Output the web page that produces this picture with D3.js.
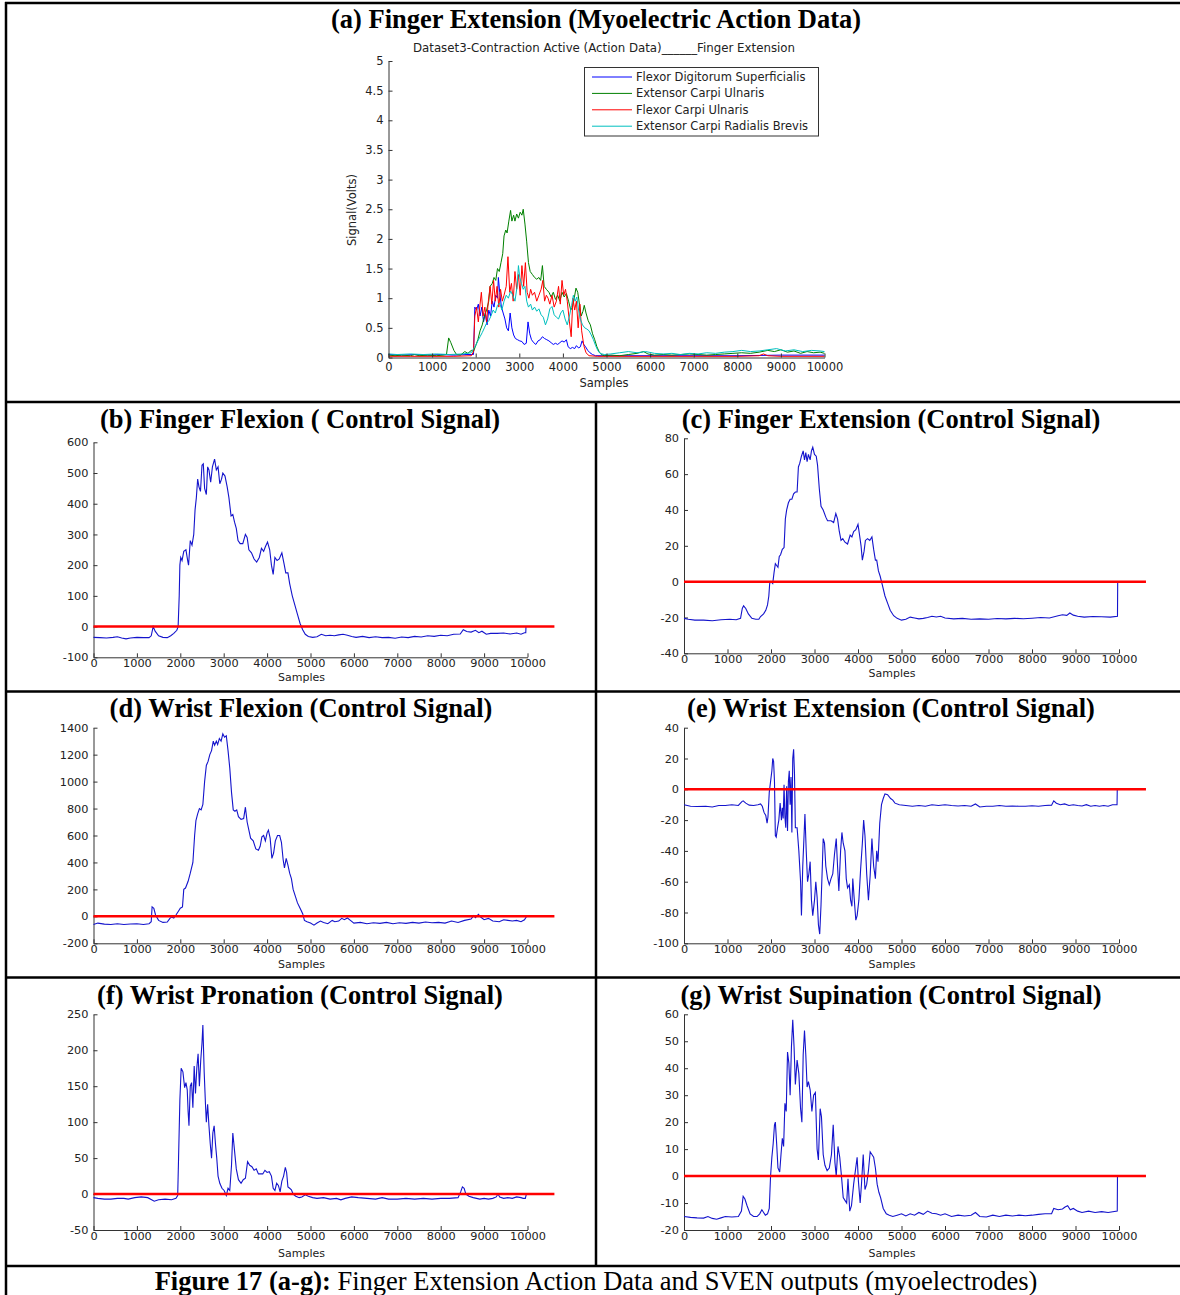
<!DOCTYPE html>
<html>
<head>
<meta charset="utf-8">
<script src="https://cdn.jsdelivr.net/npm/d3@7"></script>
<style>
  body { margin: 0; background: #fff; }
  svg text { font-family: "DejaVu Sans", sans-serif; }
</style>
</head>
<body>
<svg id="fig" width="1180" height="1295"></svg>
<script>
// ---------- Values ----------
const sampleTicks = [0, 1000, 2000, 3000, 4000, 5000, 6000, 7000, 8000, 9000, 10000];
const voltTicks = [0, 0.5, 1, 1.5, 2, 2.5, 3, 3.5, 4, 4.5, 5];
const muscleNames = ["Flexor Digitorum Superficialis", "Extensor Carpi Ulnaris", "Flexor Carpi Ulnaris", "Extensor Carpi Radialis Brevis"];

// Raw action data (volts), [sample, value]
const fdsSignal = [[0,0.05],[300,0.04],[600,0.05],[900,0.04],[1200,0.05],[1500,0.04],[1800,0.05],[1950,0.05],[1980,0.85],[2020,0.8],[2060,0.9],[2100,0.7],[2140,0.85],[2180,0.6],[2220,0.75],[2260,0.55],[2300,0.8],[2340,0.7],[2380,0.95],[2420,0.85],[2460,1.05],[2500,1.0],[2520,1.35],[2550,1.1],[2590,0.85],[2630,0.75],[2670,0.65],[2710,0.5],[2750,0.45],[2790,0.75],[2830,0.5],[2870,0.38],[2910,0.32],[2960,0.3],[3010,0.28],[3060,0.27],[3110,0.22],[3160,0.24],[3200,0.6],[3240,0.4],[3280,0.3],[3330,0.25],[3380,0.22],[3430,0.28],[3480,0.3],[3530,0.35],[3580,0.32],[3630,0.3],[3680,0.28],[3730,0.25],[3780,0.22],[3830,0.24],[3880,0.22],[3930,0.25],[3980,0.28],[4030,0.26],[4080,0.3],[4120,0.18],[4170,0.15],[4220,0.17],[4270,0.15],[4310,0.2],[4360,0.16],[4400,0.18],[4440,0.28],[4480,0.22],[4520,0.18],[4570,0.12],[4620,0.08],[4680,0.05],[4750,0.03],[5000,0.03],[6000,0.03],[7000,0.03],[8000,0.03],[9000,0.04],[10000,0.04]];
const ecuSignal = [[0,0.04],[150,0.03],[300,0.04],[500,0.03],[600,0.05],[700,0.03],[900,0.04],[1100,0.03],[1250,0.04],[1330,0.05],[1380,0.33],[1430,0.25],[1500,0.12],[1560,0.05],[1650,0.04],[1750,0.1],[1820,0.07],[1900,0.12],[1950,0.1],[2000,0.2],[2050,0.3],[2100,0.45],[2150,0.55],[2200,0.7],[2250,0.8],[2300,0.95],[2330,1.2],[2380,1.25],[2420,1.35],[2460,1.3],[2500,1.5],[2540,1.45],[2580,1.6],[2620,1.75],[2650,2.05],[2690,2.15],[2720,2.1],[2760,2.3],[2800,2.48],[2830,2.3],[2870,2.4],[2900,2.3],[2940,2.42],[2980,2.35],[3020,2.45],[3060,2.4],[3090,2.5],[3130,2.25],[3170,1.95],[3210,1.6],[3250,1.45],[3300,1.4],[3350,1.35],[3400,1.32],[3450,1.35],[3490,1.3],[3530,1.55],[3570,1.2],[3620,1.15],[3680,1.1],[3730,1.02],[3780,1.1],[3830,0.98],[3880,1.05],[3930,0.95],[3980,1.1],[4030,1.02],[4080,1.08],[4130,0.95],[4180,0.8],[4220,0.85],[4260,1.0],[4300,1.17],[4340,1.1],[4380,0.9],[4420,0.7],[4460,0.78],[4490,0.88],[4530,0.75],[4580,0.62],[4630,0.55],[4680,0.4],[4730,0.3],[4780,0.18],[4830,0.1],[4880,0.05],[4950,0.03],[5100,0.04],[5300,0.03],[5500,0.05],[5700,0.07],[5850,0.1],[5950,0.06],[6100,0.04],[6300,0.05],[6500,0.04],[6700,0.05],[6900,0.06],[7100,0.05],[7300,0.04],[7500,0.05],[7700,0.06],[7900,0.07],[8100,0.08],[8300,0.07],[8500,0.09],[8700,0.12],[8850,0.1],[9000,0.13],[9150,0.09],[9300,0.11],[9450,0.07],[9600,0.1],[9750,0.08],[9900,0.09],[10000,0.07]];
const fcuSignal = [[0,0.02],[500,0.02],[1000,0.02],[1500,0.02],[1900,0.03],[1950,0.1],[1980,0.7],[2020,0.85],[2060,0.6],[2100,0.9],[2130,1.1],[2170,0.7],[2210,0.85],[2250,0.6],[2290,0.95],[2330,1.2],[2370,0.9],[2410,1.3],[2450,0.95],[2490,1.2],[2530,0.85],[2570,1.15],[2610,0.95],[2650,1.05],[2700,1.2],[2740,1.7],[2780,1.1],[2820,1.25],[2860,0.95],[2900,1.45],[2940,1.15],[2980,1.4],[3020,1.05],[3060,1.55],[3100,1.2],[3140,1.6],[3180,1.1],[3220,1.0],[3260,1.15],[3300,1.05],[3350,1.1],[3400,0.95],[3450,1.05],[3500,1.15],[3540,1.3],[3580,0.95],[3620,1.05],[3660,1.0],[3700,0.9],[3750,1.05],[3800,0.85],[3850,0.95],[3900,1.2],[3940,0.9],[3980,1.3],[4020,1.05],[4060,1.15],[4100,0.95],[4150,0.6],[4190,0.35],[4230,1.0],[4270,0.8],[4310,0.95],[4350,0.5],[4390,0.9],[4430,0.45],[4480,0.2],[4530,0.08],[4600,0.03],[4800,0.02],[6000,0.02],[7000,0.02],[8000,0.02],[8500,0.03],[8600,0.06],[8700,0.03],[9000,0.02],[10000,0.02]];
const ecrbSignal = [[0,0.06],[200,0.05],[500,0.06],[800,0.05],[1100,0.06],[1400,0.05],[1700,0.06],[1900,0.08],[1950,0.15],[2000,0.2],[2050,0.28],[2100,0.35],[2150,0.42],[2200,0.5],[2250,0.58],[2300,0.62],[2350,0.7],[2400,0.8],[2450,0.75],[2500,0.88],[2550,0.92],[2600,0.8],[2650,0.95],[2700,1.05],[2750,1.0],[2800,1.12],[2850,1.05],[2900,0.95],[2950,1.2],[2980,1.55],[3010,1.35],[3050,1.25],[3090,1.15],[3130,1.2],[3170,0.95],[3210,0.85],[3260,0.9],[3300,0.8],[3350,0.85],[3400,0.78],[3450,0.82],[3500,0.72],[3550,0.68],[3600,0.55],[3650,0.65],[3700,0.82],[3750,0.86],[3800,0.72],[3850,0.68],[3900,0.65],[3950,0.75],[4000,0.8],[4050,0.65],[4100,0.55],[4150,0.7],[4200,0.88],[4240,1.05],[4280,0.95],[4320,1.02],[4360,0.8],[4400,0.65],[4450,0.55],[4500,0.5],[4550,0.48],[4600,0.45],[4650,0.38],[4700,0.3],[4750,0.2],[4800,0.12],[4850,0.07],[4950,0.05],[5100,0.06],[5300,0.08],[5500,0.1],[5700,0.08],[5900,0.1],[6100,0.07],[6300,0.06],[6500,0.07],[6700,0.05],[6900,0.07],[7100,0.06],[7300,0.08],[7500,0.07],[7700,0.09],[7900,0.1],[8100,0.12],[8300,0.1],[8500,0.11],[8700,0.13],[8900,0.15],[9100,0.11],[9300,0.13],[9500,0.1],[9700,0.12],[9900,0.11],[10000,0.1]];

// SVEN control signals, [sample, value]
const fingerFlexion = [[0,-35],[150,-36],[300,-37],[450,-35],[550,-33],[650,-37],[750,-40],[850,-37],[1000,-35],[1150,-36],[1280,-36],[1330,-30],[1375,0],[1420,-15],[1500,-30],[1600,-35],[1700,-36],[1780,-30],[1850,-22],[1920,-12],[1950,0],[1975,100],[1990,200],[2010,225],[2040,215],[2080,245],[2130,250],[2170,215],[2190,200],[2230,280],[2270,265],[2310,300],[2340,380],[2370,420],[2400,480],[2430,455],[2465,440],[2500,525],[2530,530],[2560,450],[2600,430],[2630,520],[2660,510],[2700,470],[2740,520],[2790,545],[2830,510],[2870,520],[2910,465],[2950,480],[2980,500],[3030,490],[3080,455],[3120,420],[3170,360],[3210,365],[3250,340],[3290,320],[3330,280],[3380,270],[3440,270],[3500,300],[3540,290],[3580,250],[3640,240],[3700,220],[3760,210],[3820,225],[3870,255],[3920,245],[3960,260],[4010,275],[4060,250],[4100,200],[4140,170],[4180,225],[4230,215],[4280,220],[4340,240],[4390,205],[4430,175],[4480,175],[4520,140],[4580,100],[4640,70],[4700,40],[4760,10],[4820,-10],[4880,-25],[4950,-32],[5050,-35],[5150,-33],[5250,-25],[5350,-30],[5450,-28],[5550,-30],[5650,-27],[5750,-25],[5850,-28],[5950,-32],[6050,-35],[6200,-32],[6350,-36],[6500,-33],[6650,-36],[6800,-35],[6950,-38],[7100,-34],[7250,-36],[7400,-32],[7550,-34],[7700,-30],[7850,-32],[8000,-28],[8150,-30],[8300,-25],[8450,-24],[8520,-10],[8600,-16],[8700,-18],[8800,-12],[8880,-20],[8950,-15],[9050,-25],[9150,-22],[9300,-22],[9450,-21],[9600,-24],[9750,-21],[9850,-25],[9930,-20],[9960,-20],[9965,0]];
const fingerExtension = [[0,-20.5],[100,-21],[250,-21.5],[450,-21.5],[650,-21.8],[850,-21.3],[1050,-21],[1200,-21.3],[1300,-20.5],[1340,-15],[1370,-13.5],[1420,-15],[1480,-18],[1560,-20.5],[1650,-21],[1720,-21],[1760,-19.5],[1830,-18],[1880,-16],[1920,-13],[1950,-8],[1970,-1],[2000,0],[2040,-1],[2070,5],[2100,10],[2130,9],[2160,8],[2190,14],[2220,15],[2260,18],[2300,19],[2330,35],[2360,40],[2400,44],[2440,46],[2480,46],[2520,49],[2560,50],[2600,50],[2630,64],[2660,66],[2700,70],[2740,73],[2770,68],[2800,72],[2830,67],[2860,71],[2900,68],[2930,73],[2960,75],[3000,71],[3040,70],[3070,65],[3110,52],[3150,42],[3200,40],[3260,36],[3300,34],[3380,34],[3440,33],[3490,38],[3530,35],[3570,28],[3610,23],[3650,24],[3700,22],[3760,21],[3820,26],[3860,25],[3900,28],[3950,29],[4000,32],[4030,27],[4070,20],[4100,12],[4140,17],[4170,23],[4220,24],[4270,23],[4320,25],[4360,18],[4400,12],[4430,12],[4470,6],[4510,3],[4560,-2],[4620,-8],[4680,-12],[4740,-16],[4820,-19],[4900,-20.5],[5000,-21.5],[5100,-21],[5200,-19.8],[5300,-20.3],[5400,-20.8],[5500,-20.5],[5600,-20],[5700,-19.3],[5800,-19.7],[5900,-19.3],[6000,-20.3],[6200,-20.8],[6400,-20.5],[6600,-21],[6800,-20.8],[7000,-21],[7200,-20.6],[7400,-20.8],[7600,-20.5],[7800,-20.7],[8000,-20.4],[8200,-20],[8400,-20.3],[8600,-19],[8700,-18.5],[8800,-18.8],[8870,-17.5],[8950,-18.7],[9050,-19.3],[9200,-19.8],[9400,-19.5],[9600,-19.6],[9800,-19.8],[9965,-19.3],[9970,0]];
const wristFlexion = [[0,-60],[100,-50],[250,-58],[400,-60],[550,-55],[700,-60],[850,-57],[1000,-55],[1150,-60],[1280,-55],[1330,-40],[1350,70],[1390,60],[1430,10],[1500,-30],[1600,-45],[1700,-42],[1760,-15],[1800,-5],[1850,-12],[1900,10],[1960,40],[2000,60],[2050,70],[2080,200],[2120,210],[2180,260],[2230,320],[2290,400],[2330,600],[2360,710],[2400,760],[2440,800],[2480,790],[2520,830],[2560,1000],[2600,1120],[2640,1150],[2680,1200],[2720,1230],[2760,1300],[2790,1270],[2830,1300],[2860,1275],[2900,1320],[2940,1300],[2980,1355],[3020,1330],[3060,1340],[3100,1230],[3140,1100],[3180,920],[3220,790],[3260,780],[3300,790],[3340,740],[3400,720],[3460,725],[3500,810],[3540,700],[3580,640],[3620,580],[3680,560],[3740,500],[3800,490],[3840,520],[3880,590],[3920,600],[3960,560],[4000,620],[4030,640],[4070,580],[4110,430],[4150,470],[4190,560],[4240,600],[4290,600],[4330,550],[4370,420],[4400,360],[4440,430],[4480,380],[4520,320],[4560,280],[4600,200],[4650,150],[4700,100],[4760,60],[4820,20],[4860,-30],[4920,-40],[5000,-50],[5080,-65],[5150,-50],[5230,-35],[5300,-45],[5400,-55],[5500,-30],[5560,-40],[5650,-35],[5720,-15],[5780,-25],[5850,-12],[5920,-30],[6000,-50],[6150,-45],[6300,-55],[6450,-48],[6600,-52],[6750,-45],[6900,-55],[7050,-48],[7200,-52],[7350,-45],[7500,-50],[7650,-42],[7800,-48],[7950,-45],[8100,-50],[8250,-35],[8400,-45],[8550,-30],[8700,-20],[8760,5],[8800,-10],[8870,15],[8920,-5],[9000,-25],[9100,-15],[9200,-35],[9350,-40],[9450,-25],[9550,-30],[9650,-35],[9750,-30],[9850,-40],[9930,-25],[9960,-10],[9980,0]];
const wristExtension = [[0,-10],[150,-11],[300,-11.2],[500,-11],[650,-11.5],[800,-10.5],[950,-10.5],[1100,-10],[1250,-10.5],[1330,-8],[1360,-7.5],[1420,-9],[1500,-10.3],[1600,-10.5],[1700,-10],[1760,-9.5],[1800,-11],[1840,-15],[1880,-17],[1910,-22],[1930,-18],[1960,-2],[1990,5],[2020,12],[2040,20],[2060,18],[2080,5],[2100,-30],[2120,-31],[2150,-25],[2180,-20],[2210,-9],[2240,-20],[2260,-12],[2280,-19],[2300,3],[2320,-18],[2340,-25],[2360,2],[2380,-27],[2400,5],[2420,12],[2440,-10],[2460,8],[2480,-28],[2500,20],[2520,26],[2540,10],[2560,-25],[2600,-25],[2640,-40],[2680,-60],[2700,-82],[2730,-50],[2760,-30],[2780,-16],[2810,-40],[2840,-60],[2870,-55],[2900,-47],[2930,-72],[2960,-82],[3000,-72],[3030,-60],[3060,-70],[3090,-88],[3120,-94],[3150,-75],[3180,-50],[3200,-32],[3230,-35],[3260,-50],[3300,-58],[3340,-62],[3380,-58],[3420,-55],[3460,-42],[3500,-32],[3530,-50],[3560,-66],[3600,-40],[3630,-28],[3660,-35],[3700,-40],[3730,-58],[3760,-64],[3800,-62],[3830,-72],[3860,-76],[3880,-58],[3910,-70],[3950,-85],[3980,-82],[4020,-72],[4060,-52],[4100,-35],[4130,-20],[4160,-30],[4200,-55],[4240,-72],[4280,-56],[4320,-32],[4360,-50],[4400,-58],[4430,-40],[4460,-47],[4500,-22],[4540,-10],[4580,-6],[4620,-3],[4680,-3.5],[4750,-6],[4800,-7],[4850,-9],[4950,-10],[5100,-10.5],[5250,-11],[5400,-10.5],[5550,-11],[5700,-10],[5850,-10.5],[6000,-10],[6150,-10.5],[6300,-10.8],[6450,-10.5],[6600,-11],[6700,-9.5],[6800,-11.5],[6950,-11],[7100,-11],[7250,-10.5],[7400,-11],[7550,-10.8],[7700,-11],[7850,-11],[8000,-10.7],[8150,-11],[8300,-10.5],[8450,-10.3],[8500,-7.5],[8560,-9],[8650,-10],[8750,-9.5],[8850,-10.5],[8950,-10],[9050,-10.5],[9150,-10.8],[9250,-10],[9350,-11],[9450,-10.5],[9550,-11],[9650,-10.5],[9750,-11],[9850,-10],[9955,-10],[9960,0]];
const wristPronation = [[0,-5],[100,-6],[250,-7],[400,-7],[550,-6],[700,-6],[800,-7],[950,-5],[1100,-4],[1250,-5],[1400,-10],[1500,-8],[1650,-7],[1800,-8],[1900,-6],[1940,-2],[1960,50],[1990,130],[2020,175],[2060,170],[2100,148],[2130,155],[2160,145],[2180,115],[2200,95],[2230,150],[2260,155],[2290,120],[2320,178],[2350,140],[2380,175],[2410,195],[2440,150],[2470,185],[2500,210],[2520,235],[2550,170],[2580,125],[2600,100],[2630,125],[2660,95],[2690,70],[2720,50],[2750,85],[2780,95],[2810,70],[2840,50],[2870,25],[2910,15],[2960,8],[3010,5],[3060,-2],[3100,8],[3140,5],[3180,40],[3210,85],[3250,60],[3290,35],[3340,20],[3400,15],[3450,20],[3500,22],[3550,45],[3600,40],[3650,38],[3700,33],[3750,35],[3800,28],[3850,28],[3900,28],[3950,33],[4000,30],[4050,31],[4100,25],[4140,8],[4180,5],[4220,15],[4260,12],[4300,3],[4340,18],[4380,25],[4420,37],[4450,30],[4480,10],[4520,8],[4560,6],[4600,0],[4660,-3],[4740,-5],[4800,-4],[4880,-1],[4950,-3],[5050,-5],[5150,-6],[5300,-5],[5450,-7],[5600,-6],[5700,-8],[5800,-6],[5950,-4],[6100,-5],[6300,-6],[6500,-7],[6650,-5],[6800,-7],[7000,-7],[7200,-6],[7400,-7],[7600,-6],[7800,-7],[8000,-6],[8200,-6],[8400,-5],[8460,3],[8500,10],[8540,8],[8580,0],[8650,-3],[8750,-5],[8900,-7],[9000,-6],[9100,-7],[9200,-6],[9280,-4],[9320,0],[9360,-4],[9450,-6],[9550,-5],[9650,-6],[9750,-4],[9850,-5],[9900,-6],[9950,-6],[9970,-1]];
const wristSupination = [[0,-15],[150,-15.3],[300,-15.5],[450,-15.6],[550,-15],[650,-15.7],[750,-16],[850,-15.5],[950,-15],[1100,-15.2],[1250,-15],[1320,-13],[1360,-7.5],[1400,-8.5],[1450,-11],[1520,-14],[1600,-15],[1680,-15],[1740,-14],[1790,-12.5],[1830,-13.5],[1870,-14.5],[1920,-14],[1960,-12],[1990,0],[2020,7],[2050,12],[2080,19],[2100,20],[2130,12],[2160,3],[2200,1.5],[2230,8],[2260,14],[2290,11],[2320,27],[2350,24],[2380,46],[2410,42],[2440,30],[2470,48],[2500,58],[2530,48],[2560,34],[2600,43],[2640,38],[2680,25],[2710,20],[2740,45],[2770,54],[2800,45],[2830,33],[2860,35],[2900,32],[2940,24],[2980,30],[3020,31],[3060,10],[3090,6],[3130,25],[3160,22],[3200,8],[3240,4],[3290,2],[3340,3],[3390,8],[3430,19],[3470,5],[3500,0],[3540,11],[3580,7],[3620,0],[3660,-8],[3700,-9],[3740,-10],[3770,-1],[3810,-13],[3850,-11],[3900,-3],[3940,2],[3980,7],[4010,-2],[4050,-10],[4080,-3],[4120,8],[4160,-5],[4200,-3],[4240,2],[4280,9],[4320,8],[4360,7],[4400,3],[4440,-3],[4480,-6],[4520,-8],[4580,-12],[4650,-14],[4720,-14.5],[4800,-15],[4900,-14.5],[5000,-14],[5100,-14.8],[5200,-14],[5300,-14.5],[5400,-13.5],[5500,-14.2],[5600,-13],[5700,-13.8],[5800,-14],[5900,-14.5],[6000,-14],[6150,-15],[6300,-14.5],[6450,-14.8],[6600,-14.5],[6700,-13.5],[6800,-15],[6950,-15.2],[7100,-14.5],[7250,-15],[7400,-14.5],[7550,-14.8],[7700,-14.5],[7850,-14.7],[8000,-14.5],[8150,-14.2],[8300,-14],[8450,-14],[8500,-12],[8600,-12.5],[8700,-12.2],[8760,-11.5],[8820,-11],[8880,-12.5],[8950,-12],[9050,-13],[9150,-13.5],[9300,-13],[9450,-13.5],[9600,-13.2],[9750,-13.5],[9960,-13],[9965,0]];

// Decision threshold drawn in every control panel
const thresholdLine = [[0, 0], [10620, 0]];

const flexionTicks = [-100, 0, 100, 200, 300, 400, 500, 600];
const extensionTicks = [-40, -20, 0, 20, 40, 60, 80];
const wristFlexTicks = [-200, 0, 200, 400, 600, 800, 1000, 1200, 1400];
const wristExtTicks = [-100, -80, -60, -40, -20, 0, 20, 40];
const pronationTicks = [-50, 0, 50, 100, 150, 200, 250];
const supinationTicks = [-20, -10, 0, 10, 20, 30, 40, 50, 60];

// ---------- Drawing ----------
const svg = d3.select("#fig");
const SERIF = '"Liberation Serif", "Times New Roman", serif';

function styleAxis(fontSize) {
  return g => {
    g.selectAll("path.domain").attr("stroke", "#333").attr("stroke-width", 1);
    g.selectAll(".tick line").attr("stroke", "#333");
    g.selectAll(".tick text").attr("fill", "#222")
      .style("font-family", '"DejaVu Sans", sans-serif').style("font-size", fontSize);
  };
}

function drawAxes(g, x, y, yTicks, xPad, yPad, fontSize) {
  g.append("g")
    .attr("transform", `translate(0,${y.range()[0]})`)
    .call(d3.axisBottom(x).tickValues(sampleTicks).tickFormat(d3.format("d"))
      .tickSizeInner(-4).tickSizeOuter(0).tickPadding(xPad))
    .call(styleAxis(fontSize));
  g.append("g")
    .attr("transform", `translate(${x.range()[0]},0)`)
    .call(d3.axisLeft(y).tickValues(yTicks).tickFormat(d => String(d))
      .tickSizeInner(-4).tickSizeOuter(0).tickPadding(yPad))
    .call(styleAxis(fontSize));
}

const line = (x, y) => d3.line().x(d => x(d[0])).y(d => y(d[1]));

// ----- Panel (a): raw action data -----
(function () {
  const x = d3.scaleLinear().domain([0, 10000]).range([388.5, 824.5]);
  const y = d3.scaleLinear().domain([0, 5]).range([357.5, 61]);
  const g = svg.append("g");
  const series = [fdsSignal, ecuSignal, fcuSignal, ecrbSignal];
  const colors = ["#0000ff", "#008000", "#ff0000", "#00bfbf"];
  series.forEach((s, i) => {
    g.append("path").datum(s).attr("d", line(x, y)).attr("fill", "none")
      .attr("stroke", colors[i]).attr("stroke-width", 1);
  });
  drawAxes(g, x, y, voltTicks, 5, 5, "11.5px");
  g.append("text").attr("x", 604).attr("y", 52).attr("text-anchor", "middle")
    .style("font-size", "11.8px").attr("fill", "#222")
    .text("Dataset3-Contraction Active (Action Data)______Finger Extension");
  g.append("text").attr("transform", "translate(356,210) rotate(-90)")
    .attr("text-anchor", "middle").style("font-size", "11.5px").attr("fill", "#222")
    .text("Signal(Volts)");
  g.append("text").attr("x", 604).attr("y", 387).attr("text-anchor", "middle")
    .style("font-size", "11.5px").attr("fill", "#222").text("Samples");

  // legend
  const lg = g.append("g");
  lg.append("rect").attr("x", 584.5).attr("y", 67.5).attr("width", 234).attr("height", 68.5)
    .attr("fill", "#fff").attr("stroke", "#333").attr("stroke-width", 1);
  muscleNames.forEach((name, i) => {
    const cy = 77 + i * 16.4;
    lg.append("line").attr("x1", 592).attr("x2", 632).attr("y1", cy).attr("y2", cy)
      .attr("stroke", colors[i]).attr("stroke-width", 1);
    lg.append("text").attr("x", 636).attr("y", cy + 4).style("font-size", "11.5px")
      .attr("fill", "#222").text(name);
  });
})();

// ----- Panels (b)–(g): SVEN control signals -----
const panels = [
  { title: "(b) Finger Flexion ( Control Signal)", data: fingerFlexion, ticks: flexionTicks, domain: [-100, 600],
    left: 93.5, right: 527.5, top: 442.3, bottom: 657.3, cx: 300, titleY: 428, sampY: 681 },
  { title: "(c) Finger Extension (Control Signal)", data: fingerExtension, ticks: extensionTicks, domain: [-40, 80],
    left: 684, right: 1119, top: 438.3, bottom: 653.3, cx: 891, titleY: 428, sampY: 677 },
  { title: "(d) Wrist Flexion (Control Signal)", data: wristFlexion, ticks: wristFlexTicks, domain: [-200, 1400],
    left: 93.5, right: 527.5, top: 727.7, bottom: 943.3, cx: 301, titleY: 717, sampY: 968 },
  { title: "(e) Wrist Extension (Control Signal)", data: wristExtension, ticks: wristExtTicks, domain: [-100, 40],
    left: 684, right: 1119, top: 727.7, bottom: 943.3, cx: 891, titleY: 717, sampY: 968 },
  { title: "(f) Wrist Pronation (Control Signal)", data: wristPronation, ticks: pronationTicks, domain: [-50, 250],
    left: 93.5, right: 527.5, top: 1014.3, bottom: 1230, cx: 300, titleY: 1004, sampY: 1257 },
  { title: "(g) Wrist Supination (Control Signal)", data: wristSupination, ticks: supinationTicks, domain: [-20, 60],
    left: 684, right: 1119, top: 1014.3, bottom: 1230, cx: 891, titleY: 1004, sampY: 1257 }
];

panels.forEach(p => {
  const x = d3.scaleLinear().domain([0, 10000]).range([p.left, p.right]);
  const y = d3.scaleLinear().domain(p.domain).range([p.bottom, p.top]);
  const g = svg.append("g");
  drawAxes(g, x, y, p.ticks, 2, 5, "11.3px");
  g.append("path").datum(p.data).attr("d", line(x, y)).attr("fill", "none")
    .attr("stroke", "#1414cc").attr("stroke-width", 1.1);
  g.append("path").datum(thresholdLine).attr("d", line(x, y)).attr("fill", "none")
    .attr("stroke", "#ff0000").attr("stroke-width", 2.5);
  g.append("text").attr("x", p.cx).attr("y", p.titleY).attr("text-anchor", "middle")
    .style("font-family", SERIF).style("font-weight", "bold").style("font-size", "26.5px")
    .attr("fill", "#000").text(p.title);
  g.append("text").attr("x", p.left + 208).attr("y", p.sampY).attr("text-anchor", "middle")
    .style("font-size", "11px").attr("fill", "#222").text("Samples");
});

// ----- Main heading and caption -----
svg.append("text").attr("x", 596).attr("y", 28).attr("text-anchor", "middle")
  .style("font-family", SERIF).style("font-weight", "bold").style("font-size", "26.5px")
  .text("(a) Finger Extension (Myoelectric Action Data)");

const cap = svg.append("text").attr("x", 596).attr("y", 1290).attr("text-anchor", "middle")
  .style("font-family", SERIF).style("font-size", "26.5px");
cap.append("tspan").style("font-weight", "bold").text("Figure 17 (a-g):");
cap.append("tspan").text(" Finger Extension Action Data and SVEN outputs (myoelectrodes)");

// ----- Table rules -----
const rules = svg.append("g").attr("stroke", "#000").attr("stroke-width", 2.5);
[[5, 3, 1180, 3], [6, 2, 6, 1295], [6, 402, 1180, 402], [6, 691.5, 1180, 691.5],
 [6, 977.5, 1180, 977.5], [6, 1266, 1180, 1266], [596, 402, 596, 1266]]
  .forEach(([x1, y1, x2, y2]) => rules.append("line")
    .attr("x1", x1).attr("y1", y1).attr("x2", x2).attr("y2", y2));
</script>
</body>
</html>
